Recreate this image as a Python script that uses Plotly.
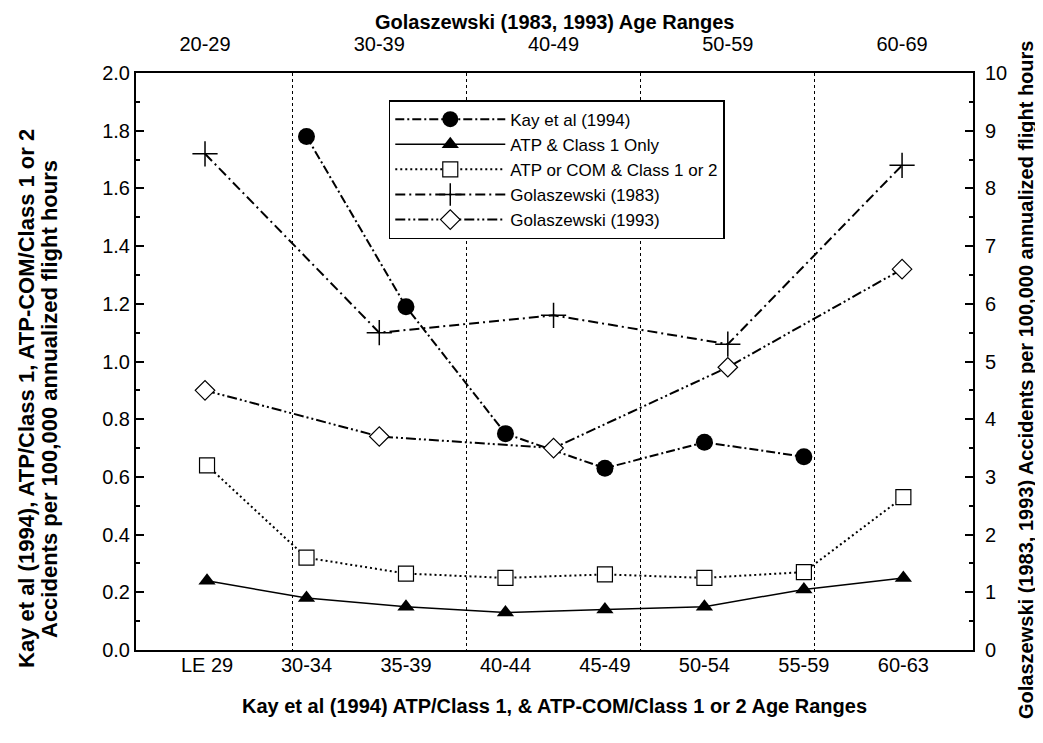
import plotly.graph_objects as go

# ---- data ----
kay_ages = ["LE 29", "30-34", "35-39", "40-44", "45-49", "50-54", "55-59", "60-63"]
golas_ages = ["20-29", "30-39", "40-49", "50-59", "60-69"]

kay_overall_ages = ["30-34", "35-39", "40-44", "45-49", "50-54", "55-59"]
kay_overall = [1.78, 1.19, 0.75, 0.63, 0.72, 0.67]
atp_class1 = [0.24, 0.18, 0.15, 0.13, 0.14, 0.15, 0.21, 0.25]
atp_com_class12 = [0.64, 0.32, 0.265, 0.25, 0.262, 0.25, 0.27, 0.53]
golas_1983 = [8.6, 5.5, 5.8, 5.3, 8.4]
golas_1993 = [4.5, 3.7, 3.5, 4.9, 6.6]

FONT = "Arial, Liberation Sans, sans-serif"

fig = go.Figure()

fig.add_trace(go.Scatter(
    x=kay_overall_ages, y=kay_overall, name="Kay et al (1994)",
    mode="lines+markers", xaxis="x", yaxis="y",
    line=dict(color="black", width=2, dash="9px,3px,2px,3px"),
    marker=dict(symbol="circle", size=17, color="black")))
fig.add_trace(go.Scatter(
    x=kay_ages, y=atp_class1, name="ATP & Class 1 Only",
    mode="lines+markers", xaxis="x", yaxis="y",
    line=dict(color="black", width=1.5),
    marker=dict(symbol="triangle-up", size=15, color="black")))
fig.add_trace(go.Scatter(
    x=kay_ages, y=atp_com_class12, name="ATP or COM & Class 1 or 2",
    mode="lines+markers", xaxis="x", yaxis="y",
    line=dict(color="black", width=2, dash="2px,3px"),
    marker=dict(symbol="square", size=15, color="white",
                line=dict(width=1.2, color="black"))))
fig.add_trace(go.Scatter(
    x=golas_ages, y=golas_1983, name="Golaszewski (1983)",
    mode="lines+markers", xaxis="x2", yaxis="y2",
    line=dict(color="black", width=2, dash="10px,4px,2px,4px"),
    marker=dict(symbol="cross-thin-open", size=18, color="black",
                line=dict(width=1.5, color="black"))))
fig.add_trace(go.Scatter(
    x=golas_ages, y=golas_1993, name="Golaszewski (1993)",
    mode="lines+markers", xaxis="x2", yaxis="y2",
    line=dict(color="black", width=2, dash="10px,3px,2px,3px,2px,3px"),
    marker=dict(symbol="diamond", size=15, color="white",
                line=dict(width=1.2, color="black"))))

axis_common = dict(showline=True, linecolor="black", linewidth=2,
                   tickfont=dict(family=FONT, size=20, color="black"),
                   zeroline=False)

fig.update_layout(
    width=1043, height=743,
    margin=dict(l=128, r=78, t=65, b=101),
    paper_bgcolor="white", plot_bgcolor="white",
    font=dict(family=FONT, color="black"),
    showlegend=True,
    xaxis=dict(type="category", categoryorder="array", categoryarray=kay_ages,
               range=[-0.714, 7.70], ticks="", showgrid=False,
               ticklabelstandoff=-4, anchor="y", **axis_common),
    xaxis2=dict(type="category", categoryorder="array", categoryarray=golas_ages,
                range=[-0.396, 4.407], overlaying="x", side="top", anchor="y",
                ticks="", tickson="boundaries", showgrid=True,
                gridcolor="black", gridwidth=1.2, griddash="dot",
                ticklabelstandoff=12, **axis_common),
    yaxis=dict(range=[0, 2], dtick=0.2, tickformat=".1f", ticks="inside",
               ticklen=8, tickwidth=1.5, tickcolor="black", showgrid=False,
               minor=dict(dtick=0.1, ticks="inside", ticklen=4, tickwidth=1.5,
                          tickcolor="black", showgrid=False),
               anchor="x", **axis_common),
    yaxis2=dict(range=[0, 10], dtick=1, ticks="inside", overlaying="y",
                side="right", anchor="x", ticklabelstandoff=6,
                ticklen=8, tickwidth=1.5, tickcolor="black", showgrid=False,
                minor=dict(dtick=0.5, ticks="inside", ticklen=4, tickwidth=1.5,
                           tickcolor="black", showgrid=False),
                **axis_common),
    legend=dict(x=0.302, y=0.953, xanchor="left", yanchor="top",
                bgcolor="white", bordercolor="black", borderwidth=1.5,
                font=dict(family=FONT, size=17, color="black"),
                itemwidth=110, tracegroupgap=0),
)

title_font = dict(family=FONT, size=20, color="black")
fig.add_annotation(text="<b>Golaszewski (1983, 1993) Age Ranges</b>",
                   xref="paper", yref="paper", x=0.5, y=1, yshift=51,
                   xanchor="center", yanchor="middle",
                   showarrow=False, font=title_font)
fig.add_annotation(text="<b>Kay et al (1994) ATP/Class 1, & ATP-COM/Class 1 or 2 Age Ranges</b>",
                   xref="paper", yref="paper", x=0.5, y=0, yshift=-56,
                   xanchor="center", yanchor="middle",
                   showarrow=False, font=title_font)
left_font = dict(family=FONT, size=22, color="black")
fig.add_annotation(text="<b>Kay et al (1994), ATP/Class 1, ATP-COM/Class 1 or 2</b>",
                   xref="paper", yref="paper", x=0, y=0.435, xshift=-110,
                   xanchor="center", yanchor="middle",
                   textangle=-90, showarrow=False, font=left_font)
fig.add_annotation(text="<b>Accidents per 100,000 annualized flight hours</b>",
                   xref="paper", yref="paper", x=0, y=0.435, xshift=-87,
                   xanchor="center", yanchor="middle",
                   textangle=-90, showarrow=False, font=left_font)
fig.add_annotation(text="<b>Golaszewski (1983, 1993) Accidents per 100,000 annualized flight hours</b>",
                   xref="paper", yref="paper", x=1, y=0.468, xshift=53,
                   xanchor="center", yanchor="middle",
                   textangle=-90, showarrow=False, font=title_font)

fig.write_html("out.html")
